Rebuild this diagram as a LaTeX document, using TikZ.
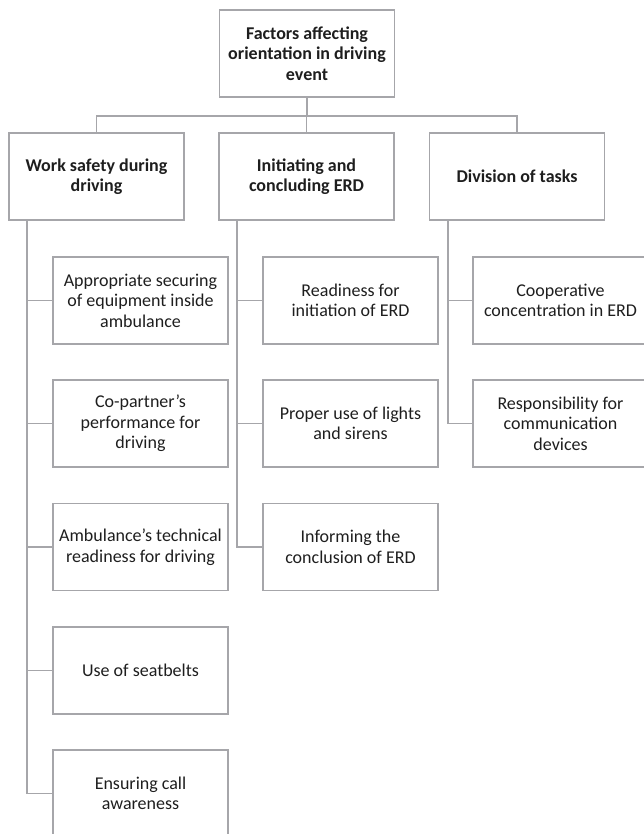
\documentclass[tikz,border=0pt]{standalone}
\usepackage{fontspec}
\setmainfont{Carlito}
\definecolor{linegray}{RGB}{166,166,170}
\definecolor{textgray}{RGB}{30,30,30}
\tikzset{
  box/.style={draw=linegray, line width=1.8pt, minimum width=175pt, minimum height=87pt,
    align=center, inner sep=0pt, text=textgray, font=\fontsize{18}{20.5}\selectfont},
  head/.style={box, font=\fontsize{18}{20.5}\selectfont\bfseries},
  link/.style={draw=linegray, line width=1.8pt}
}
\begin{document}
\begin{tikzpicture}[x=1pt,y=-1pt]
\useasboundingbox (0,0) rectangle (643,834);
\node[head] (root) at (307,53.5) {Factors affecting\\orientation in driving\\event};
\node[head] (safety) at (96.5,176.5) {Work safety during\\driving};
\node[head] (erd) at (306.5,176.5) {Initiating and\\concluding ERD};
\node[head] (tasks) at (517,176.5) {Division of tasks};
\foreach \h in {safety,erd,tasks} {
    \draw[link] (root.south) -- ++(0,18) -| (\h.north);
}
\foreach \name/\y/\txt in {sec/300.5/{Appropriate securing\\of equipment inside\\ambulance}, part/423.5/{Co-partner’s\\performance for\\driving}, tech/547/{Ambulance’s technical\\readiness for driving}, belt/670.5/{Use of seatbelts}, call/793.5/{Ensuring call\\awareness}} {
    \node[box] (\name) at (140.5,\y) {\txt};
    \draw[link] ([xshift=19pt]safety.south west) |- (\name.west);
}
\foreach \name/\y/\txt in {ready/300.5/{Readiness for\\initiation of ERD}, lights/423.5/{Proper use of lights\\and sirens}, inform/547/{Informing the\\conclusion of ERD}} {
    \node[box] (\name) at (350.5,\y) {\txt};
    \draw[link] ([xshift=19pt]erd.south west) |- (\name.west);
}
\foreach \name/\y/\txt in {coop/300.5/{Cooperative\\concentration in ERD}, resp/423.5/{Responsibility for\\communication\\devices}} {
    \node[box] (\name) at (560.5,\y) {\txt};
    \draw[link] ([xshift=19pt]tasks.south west) |- (\name.west);
}
\end{tikzpicture}
\end{document}
